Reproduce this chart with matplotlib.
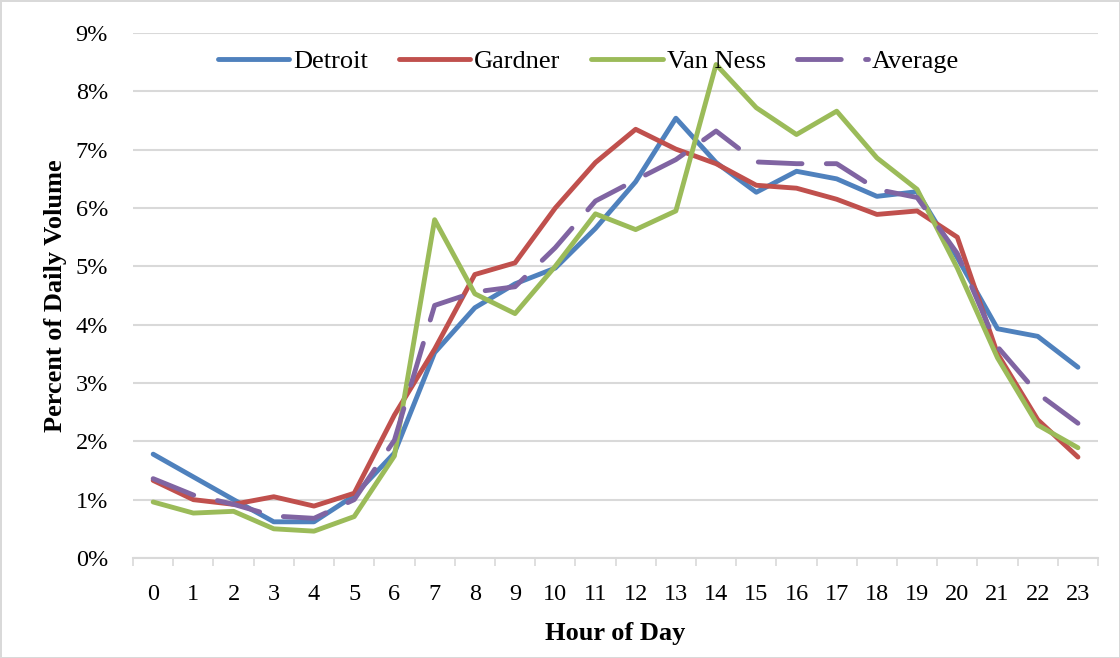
import matplotlib.pyplot as plt
import numpy as np

# Dados (percentual do volume diário por hora)
horas = list(range(24))
detroit = [1.78, 1.39, 1.00, 0.62, 0.62, 1.07, 1.80, 3.52, 4.29, 4.70, 4.97, 5.65,
           6.45, 7.54, 6.78, 6.27, 6.63, 6.50, 6.20, 6.28, 5.15, 3.93, 3.80, 3.27]
gardner = [1.33, 1.00, 0.92, 1.05, 0.89, 1.11, 2.45, 3.58, 4.86, 5.06, 6.00, 6.78,
           7.35, 7.01, 6.76, 6.39, 6.34, 6.15, 5.89, 5.95, 5.50, 3.50, 2.37, 1.73]
van_ness = [0.96, 0.77, 0.80, 0.50, 0.46, 0.71, 1.75, 5.80, 4.53, 4.19, 5.00, 5.90,
            5.63, 5.95, 8.46, 7.72, 7.26, 7.66, 6.86, 6.32, 4.97, 3.43, 2.28, 1.89]
media = [1.36, 1.08, 0.92, 0.72, 0.68, 1.00, 2.02, 4.33, 4.56, 4.65, 5.32, 6.12,
         6.48, 6.83, 7.32, 6.79, 6.76, 6.76, 6.32, 6.18, 5.22, 3.62, 2.82, 2.31]
yticks = list(range(0, 10))

plt.rcParams['font.family'] = ['Liberation Serif', 'DejaVu Serif']

fig = plt.figure(figsize=(11.2, 6.58), dpi=100)
fig.patch.set_edgecolor('#D9D9D9')
fig.patch.set_linewidth(2)
ax = fig.add_axes([0.1188, 0.152, 0.8616, 0.7978])

lw = 3.5
ax.plot(horas, detroit, color='#4F81BD', lw=lw, label='Detroit', solid_capstyle='round')
ax.plot(horas, gardner, color='#C0504D', lw=lw, label='Gardner', solid_capstyle='round')
ax.plot(horas, van_ness, color='#9BBB59', lw=lw, label='Van Ness', solid_capstyle='round')
ax.plot(horas, media, color='#8064A2', lw=lw, label='Average',
        dashes=(9, 5), dash_capstyle='round')

ax.set_xlim(-0.5, 23.5)
ax.set_ylim(0, 9)
ax.set_yticks(yticks)
ax.set_yticklabels([f'{v}%' for v in yticks])
ax.set_xticks(horas)
ax.set_xticklabels([str(h) for h in horas])
ax.set_xticks(np.arange(-0.5, 24, 1), minor=True)

ax.tick_params(axis='y', length=0, pad=18, labelsize=17.5)
ax.tick_params(axis='x', which='major', length=0, pad=19, labelsize=17.5)
ax.tick_params(axis='x', which='minor', length=6, width=1.2, color='#D9D9D9')

ax.grid(axis='y', color='#D9D9D9', lw=1.5)
ax.set_axisbelow(True)
for s in ['left', 'right', 'top']:
    ax.spines[s].set_visible(False)
ax.spines['bottom'].set_color('#D9D9D9')
ax.spines['bottom'].set_linewidth(1.5)

ax.set_xlabel('Hour of Day', fontsize=19, fontweight='bold', labelpad=12)
ax.set_ylabel('Percent of Daily Volume', fontsize=19, fontweight='bold', labelpad=6)

ax.legend(loc='center', bbox_to_anchor=(0.472, 0.946), ncol=4, frameon=False,
          fontsize=19, handlelength=2.7, handletextpad=0.15, columnspacing=1.17)

plt.savefig('out.png', dpi=100)
